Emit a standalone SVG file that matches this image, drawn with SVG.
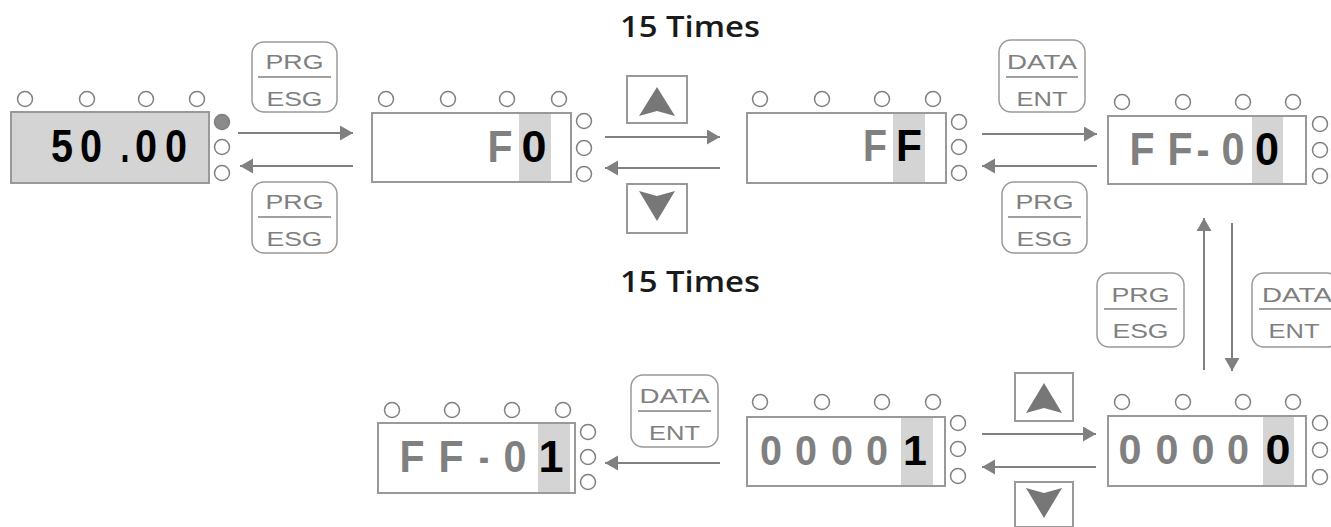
<svg xmlns="http://www.w3.org/2000/svg" width="1331" height="527" viewBox="0 0 1331 527">
<style>
.disp{fill:#fff;stroke:#999;stroke-width:2}
.disp.on{fill:#d4d4d4}
.hl{fill:#d4d4d4}
.led{fill:#fff;stroke:#808080;stroke-width:1.5}
.led.lit{fill:#8a8a8a}
.dg{font-family:"Liberation Sans",Arial,sans-serif;font-weight:bold;text-anchor:middle}
.g{fill:#808080}
.k{fill:#000}
.btn{fill:#fff;stroke:#999;stroke-width:1.5}
.bt{font-family:"Liberation Sans",Arial,sans-serif;font-size:21px;fill:#808080;text-anchor:middle}
.sep{stroke:#808080;stroke-width:1.5}
.key{fill:#fff;stroke:#999;stroke-width:2}
.tri{fill:#777}
.title{font-family:"Open Sans",sans-serif;font-size:28px;font-weight:600;fill:#1a1a1a}
.conn line{stroke:#808080;stroke-width:2;marker-end:url(#ah)}
</style>
<defs>
<marker id="ah" markerUnits="userSpaceOnUse" markerWidth="14" markerHeight="16" refX="13" refY="7.5" orient="auto">
<path d="M0,0 L13,7.5 L0,15 z" fill="#808080"/>
</marker>
</defs>

<text class="title" x="620" y="37" textLength="140" lengthAdjust="spacingAndGlyphs">15 Times</text>
<text class="title" x="620" y="292" textLength="140" lengthAdjust="spacingAndGlyphs">15 Times</text>

<g id="d1">
<rect class="disp on" x="11" y="112" width="198" height="71"/>
<circle class="led" cx="25" cy="99" r="7.5"/><circle class="led" cx="87" cy="99" r="7.5"/><circle class="led" cx="146" cy="99" r="7.5"/><circle class="led" cx="197" cy="99" r="7.5"/>
<circle class="led lit" cx="222" cy="122" r="7.5"/><circle class="led" cx="222" cy="147" r="7.5"/><circle class="led" cx="222" cy="173" r="7.5"/>
<g class="dg k" font-size="47">
<text x="62" y="162" textLength="22" lengthAdjust="spacingAndGlyphs">5</text>
<text x="91" y="162" textLength="22" lengthAdjust="spacingAndGlyphs">0</text>
<text x="125" y="162" textLength="9" lengthAdjust="spacingAndGlyphs">.</text>
<text x="146" y="162" textLength="22" lengthAdjust="spacingAndGlyphs">0</text>
<text x="176" y="162" textLength="22" lengthAdjust="spacingAndGlyphs">0</text>
</g>
</g>

<g id="d2">
<rect class="disp" x="372" y="113" width="199" height="69"/>
<rect class="hl" x="519" y="114" width="32" height="67"/>
<circle class="led" cx="386" cy="99" r="7.5"/><circle class="led" cx="448" cy="99" r="7.5"/><circle class="led" cx="507" cy="99" r="7.5"/><circle class="led" cx="559" cy="99" r="7.5"/>
<circle class="led" cx="584" cy="121" r="7.5"/><circle class="led" cx="584" cy="148" r="7.5"/><circle class="led" cx="584" cy="174" r="7.5"/>
<g class="dg" font-size="45">
<text class="g" x="500" y="162" textLength="25" lengthAdjust="spacingAndGlyphs">F</text>
<text class="k" x="534" y="162" textLength="25" lengthAdjust="spacingAndGlyphs">0</text>
</g>
</g>

<g id="d3">
<rect class="disp" x="747" y="113" width="199" height="70"/>
<rect class="hl" x="893" y="114" width="32" height="68"/>
<circle class="led" cx="760" cy="99" r="7.5"/><circle class="led" cx="822" cy="99" r="7.5"/><circle class="led" cx="882" cy="99" r="7.5"/><circle class="led" cx="933" cy="99" r="7.5"/>
<circle class="led" cx="959" cy="122" r="7.5"/><circle class="led" cx="959" cy="147" r="7.5"/><circle class="led" cx="959" cy="173" r="7.5"/>
<g class="dg" font-size="44">
<text class="g" x="875" y="161" textLength="24" lengthAdjust="spacingAndGlyphs">F</text>
<text class="k" x="909" y="161" textLength="26" lengthAdjust="spacingAndGlyphs">F</text>
</g>
</g>

<g id="d4">
<rect class="disp" x="1108" y="116" width="198" height="68"/>
<rect class="hl" x="1252" y="117" width="31" height="66"/>
<circle class="led" cx="1122" cy="102" r="7.5"/><circle class="led" cx="1183" cy="102" r="7.5"/><circle class="led" cx="1243" cy="102" r="7.5"/><circle class="led" cx="1293" cy="102" r="7.5"/>
<circle class="led" cx="1320" cy="124" r="7.5"/><circle class="led" cx="1320" cy="150" r="7.5"/><circle class="led" cx="1320" cy="176" r="7.5"/>
<g class="dg" font-size="46">
<text class="g" x="1142" y="165" textLength="25" lengthAdjust="spacingAndGlyphs">F</text>
<text class="g" x="1180" y="165" textLength="25" lengthAdjust="spacingAndGlyphs">F</text>
<text class="g" x="1203" y="165" textLength="13" lengthAdjust="spacingAndGlyphs">-</text>
<text class="g" x="1233" y="165" textLength="23" lengthAdjust="spacingAndGlyphs">0</text>
<text class="k" x="1267" y="165" textLength="24" lengthAdjust="spacingAndGlyphs">0</text>
</g>
</g>

<g id="d5">
<rect class="disp" x="378" y="423" width="197" height="70"/>
<rect class="hl" x="538" y="424" width="32" height="68"/>
<circle class="led" cx="392" cy="410" r="7.5"/><circle class="led" cx="452" cy="410" r="7.5"/><circle class="led" cx="512" cy="410" r="7.5"/><circle class="led" cx="563" cy="410" r="7.5"/>
<circle class="led" cx="588" cy="432" r="7.5"/><circle class="led" cx="588" cy="457" r="7.5"/><circle class="led" cx="588" cy="482" r="7.5"/>
<g class="dg" font-size="45">
<text class="g" x="412" y="472" textLength="25" lengthAdjust="spacingAndGlyphs">F</text>
<text class="g" x="451" y="472" textLength="25" lengthAdjust="spacingAndGlyphs">F</text>
<text class="g" x="484" y="472" textLength="10" lengthAdjust="spacingAndGlyphs">-</text>
<text class="g" x="515" y="472" textLength="23" lengthAdjust="spacingAndGlyphs">0</text>
<text class="k" x="551" y="472">1</text>
</g>
</g>

<g id="d6">
<rect class="disp" x="747" y="417" width="198" height="69"/>
<rect class="hl" x="901" y="418" width="32" height="67"/>
<circle class="led" cx="760" cy="402" r="7.5"/><circle class="led" cx="822" cy="402" r="7.5"/><circle class="led" cx="882" cy="402" r="7.5"/><circle class="led" cx="933" cy="402" r="7.5"/>
<circle class="led" cx="958" cy="423" r="7.5"/><circle class="led" cx="958" cy="449" r="7.5"/><circle class="led" cx="958" cy="476" r="7.5"/>
<g class="dg" font-size="43">
<text class="g" x="771" y="465" textLength="22" lengthAdjust="spacingAndGlyphs">0</text>
<text class="g" x="806" y="465" textLength="22" lengthAdjust="spacingAndGlyphs">0</text>
<text class="g" x="842" y="465" textLength="22" lengthAdjust="spacingAndGlyphs">0</text>
<text class="g" x="877" y="465" textLength="22" lengthAdjust="spacingAndGlyphs">0</text>
<text class="k" x="915" y="465">1</text>
</g>
</g>

<g id="d7">
<rect class="disp" x="1108" y="416" width="198" height="70"/>
<rect class="hl" x="1263" y="417" width="31" height="68"/>
<circle class="led" cx="1122" cy="402" r="7.5"/><circle class="led" cx="1183" cy="402" r="7.5"/><circle class="led" cx="1243" cy="402" r="7.5"/><circle class="led" cx="1293" cy="402" r="7.5"/>
<circle class="led" cx="1320" cy="423" r="7.5"/><circle class="led" cx="1320" cy="450" r="7.5"/><circle class="led" cx="1320" cy="477" r="7.5"/>
<g class="dg" font-size="43">
<text class="g" x="1130" y="464" textLength="23" lengthAdjust="spacingAndGlyphs">0</text>
<text class="g" x="1167" y="464" textLength="23" lengthAdjust="spacingAndGlyphs">0</text>
<text class="g" x="1203" y="464" textLength="23" lengthAdjust="spacingAndGlyphs">0</text>
<text class="g" x="1238" y="464" textLength="22" lengthAdjust="spacingAndGlyphs">0</text>
<text class="k" x="1278" y="464" textLength="25" lengthAdjust="spacingAndGlyphs">0</text>
</g>
</g>

<g id="b1">
<rect class="btn" x="252" y="42" width="85" height="70" rx="12"/>
<text class="bt" x="294.5" y="69" textLength="58" lengthAdjust="spacingAndGlyphs">PRG</text>
<line class="sep" x1="258" y1="77" x2="331" y2="77"/>
<text class="bt" x="294.5" y="106" textLength="56" lengthAdjust="spacingAndGlyphs">ESG</text>
</g>
<g id="b2">
<rect class="btn" x="252" y="182" width="85" height="71" rx="12"/>
<text class="bt" x="294.5" y="209" textLength="58" lengthAdjust="spacingAndGlyphs">PRG</text>
<line class="sep" x1="258" y1="217" x2="331" y2="217"/>
<text class="bt" x="294.5" y="246" textLength="56" lengthAdjust="spacingAndGlyphs">ESG</text>
</g>
<g id="b3">
<rect class="btn" x="999" y="40" width="86" height="72" rx="12"/>
<text class="bt" x="1042" y="69" textLength="70" lengthAdjust="spacingAndGlyphs">DATA</text>
<line class="sep" x1="1006" y1="77" x2="1078" y2="77"/>
<text class="bt" x="1042" y="106" textLength="51" lengthAdjust="spacingAndGlyphs">ENT</text>
</g>
<g id="b4">
<rect class="btn" x="1002" y="182" width="85" height="71" rx="12"/>
<text class="bt" x="1044.5" y="209" textLength="58" lengthAdjust="spacingAndGlyphs">PRG</text>
<line class="sep" x1="1008" y1="217" x2="1081" y2="217"/>
<text class="bt" x="1044.5" y="246" textLength="56" lengthAdjust="spacingAndGlyphs">ESG</text>
</g>
<g id="b5">
<rect class="btn" x="1097" y="273" width="87" height="74" rx="12"/>
<text class="bt" x="1140.5" y="302" textLength="58" lengthAdjust="spacingAndGlyphs">PRG</text>
<line class="sep" x1="1104" y1="309" x2="1177" y2="309"/>
<text class="bt" x="1140.5" y="338" textLength="56" lengthAdjust="spacingAndGlyphs">ESG</text>
</g>
<g id="b6">
<rect class="btn" x="1252" y="273" width="87" height="74" rx="12"/>
<text class="bt" x="1297" y="302" textLength="70" lengthAdjust="spacingAndGlyphs">DATA</text>
<line class="sep" x1="1259" y1="309" x2="1335" y2="309"/>
<text class="bt" x="1294" y="338" textLength="51" lengthAdjust="spacingAndGlyphs">ENT</text>
</g>
<g id="b7">
<rect class="btn" x="631" y="375" width="87" height="72" rx="12"/>
<text class="bt" x="674.5" y="403" textLength="70" lengthAdjust="spacingAndGlyphs">DATA</text>
<line class="sep" x1="638" y1="411" x2="711" y2="411"/>
<text class="bt" x="674.5" y="440" textLength="51" lengthAdjust="spacingAndGlyphs">ENT</text>
</g>

<g id="k1">
<rect class="key" x="627" y="76" width="60" height="47"/>
<path class="tri" d="M657,87 L675,116 L657,111 L639,116 Z"/>
</g>
<g id="k2">
<rect class="key" x="627" y="184" width="60" height="49"/>
<path class="tri" d="M639,191 L657,196 L675,191 L657,221 Z"/>
</g>
<g id="k3">
<rect class="key" x="1015" y="373" width="58" height="48"/>
<path class="tri" d="M1044,383 L1062,413 L1044,408 L1026,413 Z"/>
</g>
<g id="k4">
<rect class="key" x="1015" y="482" width="58" height="45"/>
<path class="tri" d="M1026,488 L1044,493 L1062,488 L1044,518 Z"/>
</g>

<g class="conn">
<line x1="238" y1="133" x2="353" y2="133"/>
<line x1="353" y1="166" x2="240" y2="166"/>
<line x1="605" y1="137" x2="720" y2="137"/>
<line x1="720" y1="168" x2="605" y2="168"/>
<line x1="982" y1="134" x2="1097" y2="134"/>
<line x1="1097" y1="166" x2="982" y2="166"/>
<line x1="1204" y1="370" x2="1204" y2="218"/>
<line x1="1232" y1="223" x2="1232" y2="371"/>
<line x1="720" y1="463" x2="605" y2="463"/>
<line x1="982" y1="434" x2="1096" y2="434"/>
<line x1="1096" y1="467" x2="982" y2="467"/>
</g>
</svg>
